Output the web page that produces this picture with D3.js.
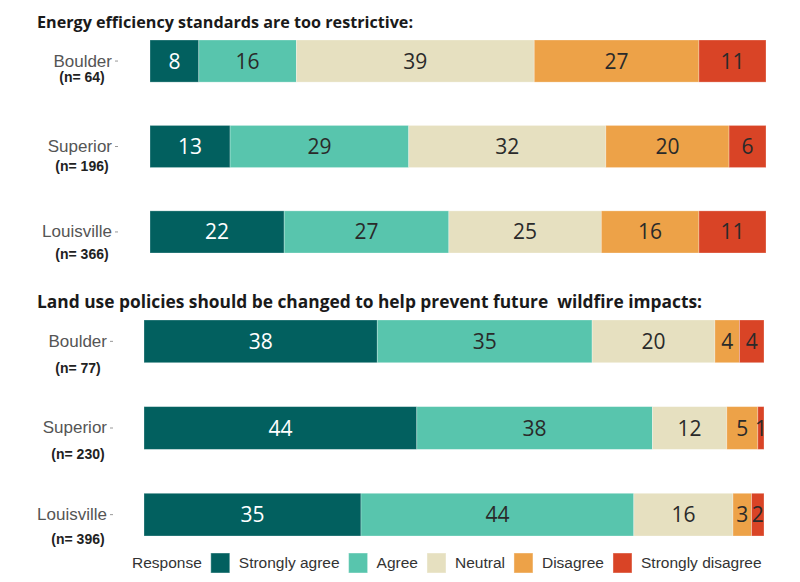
<!DOCTYPE html>
<html><head><meta charset="utf-8">
<script src="https://cdn.jsdelivr.net/npm/d3@7"></script>
<style>body{margin:0;background:#fff}svg{display:block}</style>
</head><body>
<svg id="chart" width="800" height="582"></svg>
<script>
const categories = ["Strongly agree", "Agree", "Neutral", "Disagree", "Strongly disagree"];
const colors = ["#02605f", "#58c5ad", "#e6e0c0", "#eda248", "#d94426"];
const cities = ["Boulder", "Superior", "Louisville"];
const energyTitle = "Energy efficiency standards are too restrictive:";
const energyN = [64, 196, 366];
const energyValues = [[8, 16, 39, 27, 11], [13, 29, 32, 20, 6], [22, 27, 25, 16, 11]];
const landTitle = "Land use policies should be changed to help prevent future\u00a0 wildfire impacts:";
const landN = [77, 230, 396];
const landValues = [[38, 35, 20, 4, 4], [44, 38, 12, 5, 1], [35, 44, 16, 3, 2]];

const svg = d3.select("#chart");

function panel(cfg) {
  const g = svg.append("g");
  g.append("text").attr("x", 37).attr("y", cfg.titleY)
    .attr("font-family", "'Open Sans', sans-serif").attr("font-weight", 700)
    .attr("font-size", cfg.titleSize).attr("fill", "#1a1a1a")
    .attr("textLength", cfg.titleLen).attr("lengthAdjust", "spacingAndGlyphs")
    .text(cfg.title);

  const y = d3.scaleBand().domain(cities).range(cfg.yRange).paddingInner(0.507).paddingOuter(0);

  cities.forEach((c, i) => {
    const vals = cfg.values[i];
    const total = d3.sum(vals);
    const x = d3.scaleLinear().domain([0, total]).range(cfg.xRange);
    let cum = 0;
    const segs = vals.map((v, k) => { const s = {v, k, x0: cum, x1: cum + v}; cum += v; return s; });
    const row = g.append("g");
    row.selectAll("rect").data(segs).join("rect")
      .attr("x", d => x(d.x0)).attr("width", d => x(d.x1) - x(d.x0))
      .attr("y", y(c)).attr("height", y.bandwidth())
      .attr("fill", d => colors[d.k])
      .attr("stroke", "#ffffff").attr("stroke-opacity", 0.35).attr("stroke-width", 0.8);
    row.selectAll("text").data(segs).join("text")
      .attr("x", d => (x(d.x0) + x(d.x1)) / 2)
      .attr("y", y(c) + y.bandwidth() / 2)
      .attr("dy", "0.36em").attr("text-anchor", "middle")
      .attr("font-family", "'Open Sans', sans-serif").attr("font-size", 21)
      .attr("fill", d => d.k === 0 ? "#ffffff" : "#2a2a2a")
      .text(d => d.v);
  });

  const axis = d3.axisLeft(y).tickSize(3).tickPadding(3);
  const ax = g.append("g").attr("transform", `translate(${cfg.axisX},0)`).call(axis);
  ax.select(".domain").remove();
  ax.selectAll(".tick line").attr("stroke", "#999");
  ax.selectAll(".tick text").attr("font-family", "'Liberation Sans', Arial, sans-serif")
    .attr("font-size", 17).attr("fill", "#555");

  g.selectAll("text.n").data(cities).join("text").attr("class", "n")
    .attr("x", cfg.nX).attr("y", (c, i) => y(c) + y.bandwidth() / 2 + cfg.nOffsets[i])
    .attr("dy", "0.36em").attr("text-anchor", "middle")
    .attr("font-family", "'Liberation Sans', Arial, sans-serif").attr("font-weight", 700)
    .attr("font-size", 14).attr("fill", "#222")
    .text((c, i) => `(n= ${cfg.n[i]})`);
}

panel({title: energyTitle, titleY: 28, titleSize: 16, titleLen: 376, values: energyValues, n: energyN,
  yRange: [40, 253], xRange: [150, 766], axisX: 118, nX: 82, nOffsets: [16, 19, 22]});
panel({title: landTitle, titleY: 308, titleSize: 17, titleLen: 665, values: landValues, n: landN,
  yRange: [320, 536], xRange: [144, 764], axisX: 113, nX: 78, nOffsets: [27, 26, 24]});

// legend
const leg = svg.append("g").attr("font-family", "'Liberation Sans', Arial, sans-serif")
  .attr("font-size", 15.5).attr("fill", "#333");
let lx = 132;
const rt = leg.append("text").attr("x", lx).attr("y", 563).attr("dy", "0.35em").text("Response");
lx += rt.node().getComputedTextLength() + 9;
categories.forEach((c, k) => {
  leg.append("rect").attr("x", lx).attr("y", 553).attr("width", 19).attr("height", 20)
    .attr("fill", colors[k]).attr("stroke", "#fff").attr("stroke-opacity", 0.4);
  lx += 28;
  const t = leg.append("text").attr("x", lx).attr("y", 563).attr("dy", "0.35em").text(c);
  lx += t.node().getComputedTextLength() + 9;
});
</script>
</body></html>
